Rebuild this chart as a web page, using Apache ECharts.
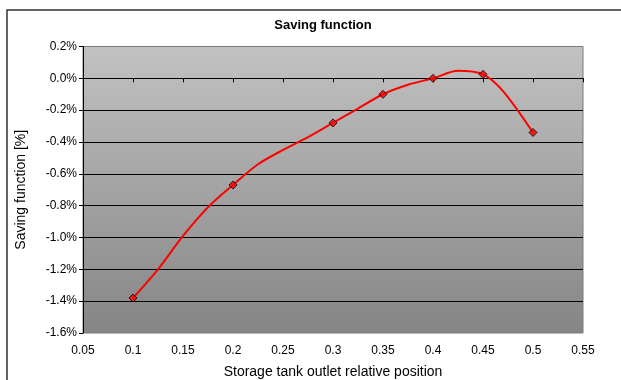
<!DOCTYPE html>
<html>
<head>
<meta charset="utf-8">
<script src="https://cdn.jsdelivr.net/npm/echarts@6/dist/echarts.min.js"></script>
<style>
  html, body { margin: 0; padding: 0; background: #fff; }
  #chart { width: 621px; height: 380px; }
</style>
</head>
<body>
<div id="chart"></div>
<script>
// Measured points (outlet position vs. saving function in %)
const positions = [0.1, 0.2, 0.3, 0.35, 0.4, 0.45, 0.5];
const savings = [-1.38, -0.67, -0.28, -0.10, 0.00, 0.025, -0.34];

// Fitted curve through the measurements
const curvePositions = [0.1, 0.125, 0.15, 0.175, 0.2, 0.225, 0.25, 0.275, 0.3, 0.325, 0.35, 0.375, 0.4, 0.425, 0.45, 0.47, 0.5];
const curveSavings = [-1.38, -1.20, -0.99, -0.81, -0.67, -0.54, -0.45, -0.37, -0.28, -0.19, -0.10, -0.04, 0.00, 0.047, 0.025, -0.08, -0.34];

// Axis ranges and ticks
const xTicks = { min: 0.05, max: 0.55, step: 0.05 };
const yTicks = { min: -1.6, max: 0.2, step: 0.2 };

const chartTitle = 'Saving function';
const xTitle = 'Storage tank outlet relative position';
const yTitle = 'Saving function [%]';

const font = 'Liberation Sans, Arial, sans-serif';
const pairs = (xs, ys) => xs.map((x, i) => [x, ys[i]]);

const chart = echarts.init(document.getElementById('chart'), null, { renderer: 'canvas' });
chart.setOption({
  animation: false,
  backgroundColor: '#ffffff',
  title: {
    text: chartTitle,
    left: 318, top: 14, textAlign: 'center',
    textStyle: { fontFamily: font, fontSize: 13, fontWeight: 'bold', color: '#000' }
  },
  graphic: [{
    type: 'rect', z: -1, silent: true,
    shape: { x: 7, y: 10, width: 700, height: 500 },
    style: { fill: 'none', stroke: '#333', lineWidth: 1.5 }
  }],
  grid: {
    left: 83, top: 46.5, right: 38, bottom: 47,
    outerBoundsMode: 'none',
    containLabel: false,
    show: true,
    borderColor: '#7a7a7a', borderWidth: 1,
    backgroundColor: {
      type: 'linear', x: 0, y: 0, x2: 0, y2: 1,
      colorStops: [{ offset: 0, color: '#c2c2c2' }, { offset: 1, color: '#858585' }]
    }
  },
  xAxis: [{
    type: 'value', min: xTicks.min, max: xTicks.max, interval: xTicks.step,
    axisLine: { show: false, onZero: false },
    axisTick: { show: false },
    splitLine: { show: false },
    axisLabel: {
      margin: 12, color: '#000', fontFamily: font, fontSize: 12,
      formatter: v => String(parseFloat(v.toFixed(2)))
    },
    name: xTitle, nameLocation: 'middle', nameGap: 32,
    nameTextStyle: { fontFamily: font, fontSize: 14, color: '#000' }
  }, {
    type: 'value', position: 'bottom', min: xTicks.min, max: xTicks.max, interval: xTicks.step,
    axisLine: { show: true, onZero: true, lineStyle: { color: '#000', width: 1 } },
    axisTick: { show: true, inside: false, length: 4, lineStyle: { color: '#000' } },
    axisLabel: { show: false },
    splitLine: { show: false }
  }],
  yAxis: {
    type: 'value', min: yTicks.min, max: yTicks.max, interval: yTicks.step,
    axisLine: { show: true, lineStyle: { color: '#000', width: 1 } },
    axisTick: { show: true, length: 4, lineStyle: { color: '#000' } },
    splitLine: { show: true, showMinLine: false, showMaxLine: false, lineStyle: { color: '#000', width: 1 } },
    axisLabel: {
      margin: 6, color: '#000', fontFamily: font, fontSize: 12,
      formatter: v => v.toFixed(1) + '%'
    },
    name: yTitle, nameLocation: 'middle', nameGap: 55, nameRotate: 90,
    nameTextStyle: { fontFamily: font, fontSize: 14, color: '#000' }
  },
  series: [{
    type: 'line', xAxisIndex: 0,
    data: pairs(curvePositions, curveSavings),
    smooth: 0.3, showSymbol: false, symbol: 'none',
    lineStyle: { color: '#ff0000', width: 2 },
    z: 3
  }, {
    type: 'scatter', xAxisIndex: 0,
    data: pairs(positions, savings),
    symbol: 'diamond', symbolSize: 8,
    itemStyle: { color: '#ff0000', borderColor: '#000', borderWidth: 1 },
    z: 4
  }]
});
</script>
</body>
</html>
